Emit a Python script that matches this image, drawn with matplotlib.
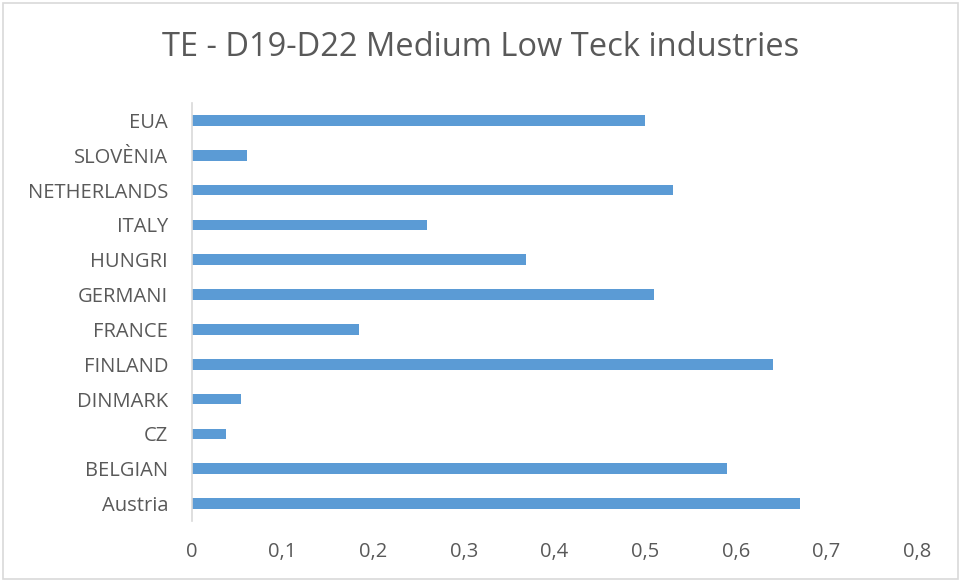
import matplotlib.pyplot as plt
import matplotlib.ticker as mticker
from matplotlib.patches import Rectangle

# Data (bottom to top)
countries = ["Austria", "BELGIAN", "CZ", "DINMARK", "FINLAND", "FRANCE",
             "GERMANI", "HUNGRI", "ITALY", "NETHERLANDS", "SLOVÈNIA", "EUA"]
values = [0.671, 0.590, 0.0375, 0.054, 0.641, 0.184,
          0.510, 0.369, 0.259, 0.531, 0.061, 0.500]
xticks = [0, 0.1, 0.2, 0.3, 0.4, 0.5, 0.6, 0.7, 0.8]

BAR_COLOR = "#5B9BD5"
TEXT_COLOR = "#595959"
plt.rcParams["font.family"] = ["Open Sans", "DejaVu Sans"]

fig = plt.figure(figsize=(9.61, 5.82), dpi=100)
ax = fig.add_axes([0.1995, 0.1048, 0.7547, 0.7182])

ax.barh(range(len(countries)), values, height=0.31, color=BAR_COLOR)
ax.set_yticks(range(len(countries)))
ax.set_yticklabels(countries)
ax.set_ylim(-0.5, len(countries) - 0.5)
ax.set_xlim(0, 0.8)
ax.set_xticks(xticks)
ax.xaxis.set_major_formatter(
    mticker.FuncFormatter(lambda v, p: "0" if v == 0 else f"{v:.1f}".replace(".", ",")))

for s in ["top", "right", "bottom"]:
    ax.spines[s].set_visible(False)
ax.spines["left"].set_color("#D9D9D9")
ax.spines["left"].set_linewidth(1.2)
ax.tick_params(axis="both", length=0, labelsize=14.5, colors=TEXT_COLOR)
ax.tick_params(axis="y", pad=17)
ax.tick_params(axis="x", pad=15)

fig.text(0.5, 0.918, "TE - D19-D22 Medium Low Teck industries",
         ha="center", va="center", fontsize=23.5, color=TEXT_COLOR)

# chart border
fig.patches.append(Rectangle((0.003, 0.005), 0.994, 0.99, transform=fig.transFigure,
                             fill=False, edgecolor="#D9D9D9", linewidth=1.2))

plt.savefig("out.png", dpi=100)
